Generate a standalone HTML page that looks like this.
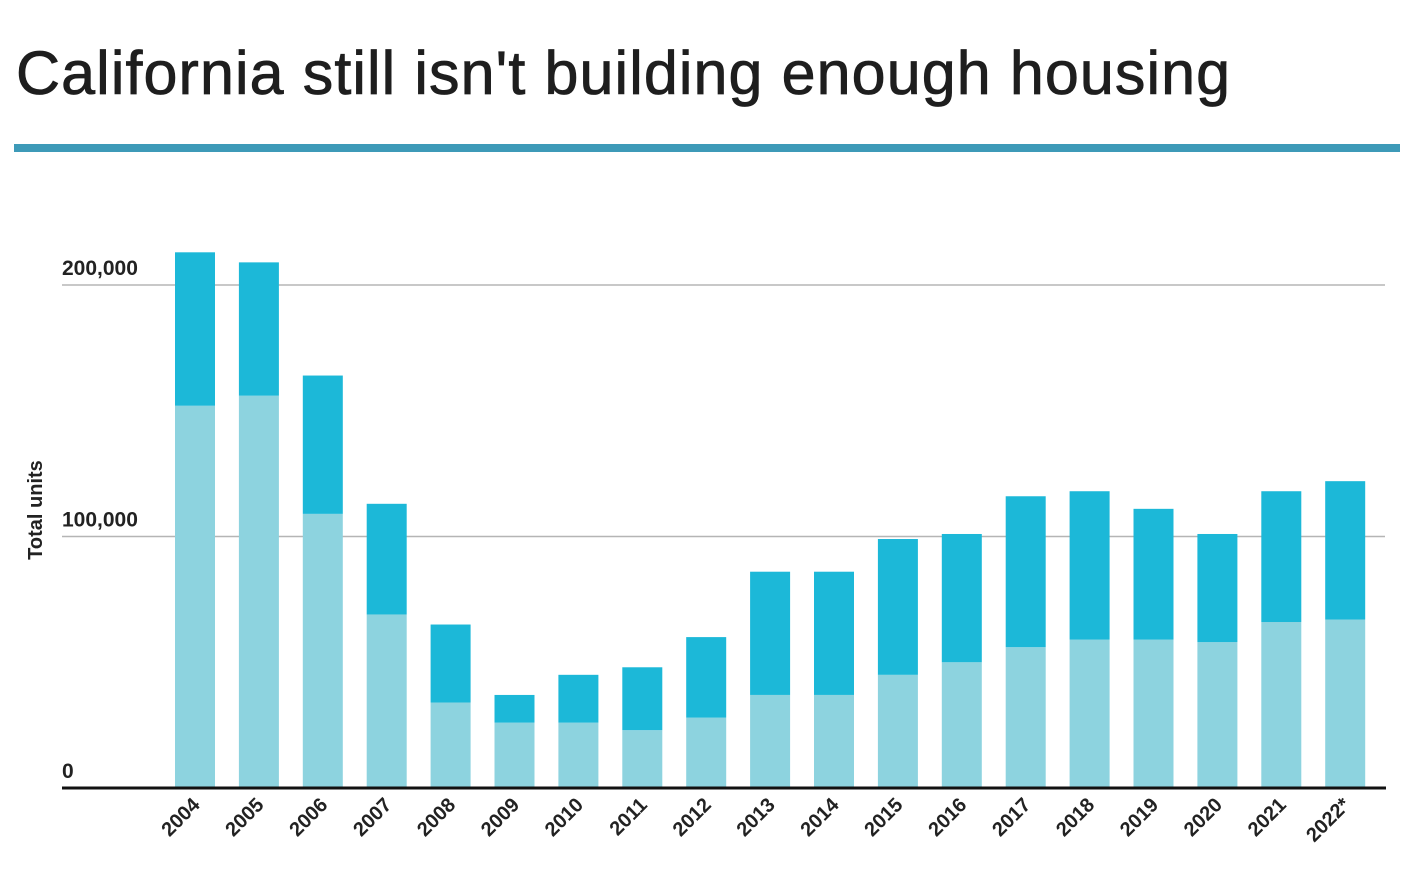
<!DOCTYPE html>
<html><head><meta charset="utf-8"><style>
body{margin:0;background:#fff;width:1418px;height:877px;overflow:hidden;font-family:"Liberation Sans",sans-serif}
h1{position:absolute;left:16px;top:38px;margin:0;font-size:61px;font-weight:normal;color:#1e1e1e;letter-spacing:1.1px;-webkit-text-stroke:0.8px #1e1e1e}
#rule{position:absolute;left:14px;top:144px;width:1386px;height:8px;background:#3d9ab8}
svg{position:absolute;left:0;top:0}
</style></head><body>
<h1>California still isn't building enough housing</h1>
<div id="rule"></div>
<svg id="c" width="1418" height="877"></svg>
<script>
const years=["2004","2005","2006","2007","2008","2009","2010","2011","2012","2013","2014","2015","2016","2017","2018","2019","2020","2021","2022*"];
const lowerVals=[152000,156000,109000,69000,34000,26000,26000,23000,28000,37000,37000,45000,50000,56000,59000,59000,58000,66000,67000];
const totalVals=[213000,209000,164000,113000,65000,37000,45000,48000,60000,86000,86000,99000,101000,116000,118000,111000,101000,118000,122000];
const yTicks=[0,100000,200000];
const yTickLabels=["0","100,000","200,000"];
const NS="http://www.w3.org/2000/svg",svg=document.getElementById('c');
const y=v=>788-v*251.5/100000, x=i=>195+i*63.9;
function mk(t,a,txt){const e=document.createElementNS(NS,t);for(const k in a)e.setAttribute(k,a[k]);if(txt!=null)e.textContent=txt;svg.appendChild(e);return e;}
yTicks.forEach((t,i)=>{
 if(t>0){const g=mk('line',{x1:62,x2:1385,y1:y(t),y2:y(t),stroke:'#b5b5b5','stroke-width':1.5});
 
 }
 const l=mk('text',{x:62,y:y(t)-10,'font-size':21,'font-weight':'bold',fill:'#222'},yTickLabels[i]);
 
 
});
years.forEach((yr,i)=>{
 const r1=mk('rect',{x:x(i)-20,y:y(lowerVals[i]),width:40,height:788-y(lowerVals[i]),fill:'#8dd3df'});
 
 
 const r2=mk('rect',{x:x(i)-20,y:y(totalVals[i]),width:40,height:y(lowerVals[i])-y(totalVals[i]),fill:'#1cb8d8'});
 
 
 const t=mk('text',{x:x(i)+6,y:806,'font-size':20,'font-weight':'bold',fill:'#222','text-anchor':'end',transform:`rotate(-45 ${x(i)+6} 806)`},yr);
 
 
});
const ax=mk('line',{x1:62,x2:1386,y1:788,y2:788,stroke:'#111','stroke-width':3});


const yt=mk('text',{x:42,y:510,'font-size':20,'font-weight':'bold',fill:'#222','text-anchor':'middle',transform:'rotate(-90 42 510)'},'Total units');


</script>
</body></html>
